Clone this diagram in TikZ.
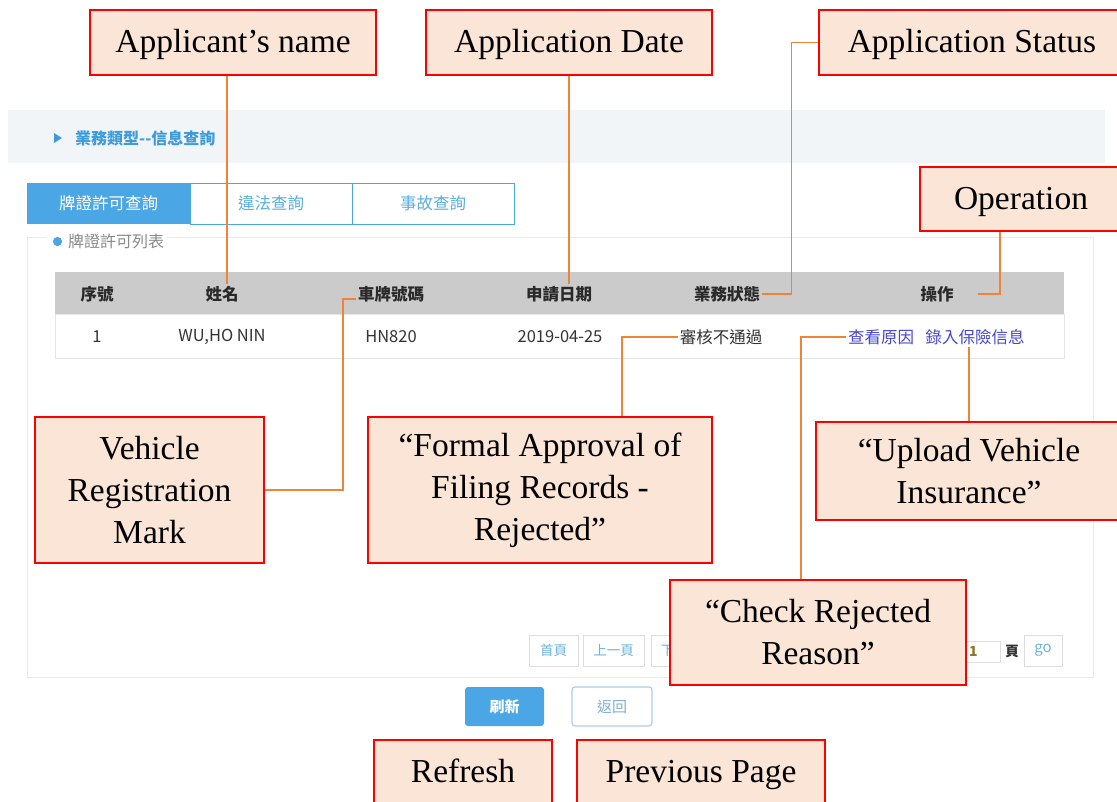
\documentclass[tikz,border=0pt]{standalone}
\usepackage{fontspec}
\setmainfont{Liberation Serif}
\newfontfamily\uifont{Noto Sans CJK TC}
\usetikzlibrary{calc}

\definecolor{calloutfill}{HTML}{FBE5D6}
\definecolor{calloutred}{HTML}{FF0000}
\definecolor{connorange}{HTML}{F08436}
\definecolor{uiblue}{HTML}{4AA6E4}
\definecolor{hdrbg}{HTML}{F2F5F8}
\definecolor{hdrblue}{HTML}{3D9BDB}
\definecolor{tabtext}{HTML}{5AAEE0}
\definecolor{thgray}{HTML}{CBCBCB}
\definecolor{panelgray}{HTML}{EAEAEA}
\definecolor{rowborder}{HTML}{E6E6E6}
\definecolor{uitext}{HTML}{333333}
\definecolor{legendgray}{HTML}{8A8A8A}
\definecolor{linkblue}{HTML}{4646D2}
\definecolor{pagegray}{HTML}{DDDDDD}
\definecolor{pageblue}{HTML}{6BB3DD}
\definecolor{inputnum}{HTML}{8C7A2A}
\definecolor{btnborder}{HTML}{A9CFE9}
\definecolor{btntext}{HTML}{7FB0D6}

\begin{document}
\begin{tikzpicture}[x=1pt,y=-1pt,
  callout/.style={draw=calloutred, line width=2.6pt, fill=calloutfill, align=center,
    inner sep=0pt, text=black, font=\fontsize{33.5}{42}\selectfont},
  oneline/.style={text height=23pt, text depth=3pt},
  conn/.style={draw=connorange, line width=1.4pt},
  ui/.style={inner sep=2pt, text=uitext, font=\uifont\fontsize{16.5}{20}\selectfont},
  uibold/.style={inner sep=2pt, text=uitext!80!black, font=\uifont\bfseries\fontsize{16.5}{20}\selectfont},
  link/.style={inner sep=2pt, text=linkblue, font=\uifont\fontsize{16.5}{20}\selectfont},
  tabon/.style={fill=uiblue, text=white, minimum height=41pt, inner sep=0pt,
    font=\uifont\fontsize{16.5}{20}\selectfont},
  taboff/.style={draw=uiblue, line width=1pt, fill=white, text=tabtext, minimum height=41pt,
    inner sep=0pt, font=\uifont\fontsize{16.5}{20}\selectfont},
  pagebtn/.style={draw=pagegray, line width=1pt, fill=white, text=pageblue, minimum height=31pt,
    inner sep=0pt, font=\uifont\fontsize{13.5}{16}\selectfont},
  btnon/.style={fill=uiblue, text=white, rounded corners=3pt, minimum width=79pt, minimum height=39pt,
    inner sep=0pt, font=\uifont\bfseries\fontsize{15}{18}\selectfont},
  btnoff/.style={draw=btnborder, line width=1.2pt, fill=white, text=btntext, rounded corners=3pt,
    minimum width=80pt, minimum height=39pt, inner sep=0pt, font=\uifont\fontsize{15}{18}\selectfont}
]
\useasboundingbox (0,0) rectangle (1117,801);
\fill[white] (0,0) rectangle (1117,801);

% ---------- header band ----------
\fill[hdrbg] (8,110) rectangle (1105,163);
\fill[hdrblue] (54,133) -- (62,138) -- (54,143) -- cycle;
\node[anchor=west, inner sep=0pt, text=hdrblue, font=\uifont\bfseries\fontsize{16}{20}\selectfont]
  (crumb) at (75,138) {業務類型--信息查詢};

% ---------- panel ----------
\draw[panelgray, line width=1pt, fill=white] (27,237) rectangle (1093,677);

% ---------- tabs ----------
\node[tabon, minimum width=163pt] (tab1) at (108.5,203.5) {牌證許可查詢};
\node[taboff, minimum width=162pt] (tab2) at (271,203.5) {違法查詢};
\node[taboff, minimum width=162pt] (tab3) at (433,203.5) {事故查詢};

% ---------- legend ----------
\fill[white] (47,231) rectangle (70,251);
\node[anchor=west, fill=white, inner sep=2pt, text=legendgray, font=\uifont\fontsize{16}{20}\selectfont]
  (legend) at (66,241) {牌證許可列表};
\fill[uiblue] (57.5,241.5) circle (4.6);

% ---------- table ----------
\fill[thgray] (55,272) rectangle (1064,314);
\draw[rowborder, line width=1pt, fill=white] (55,314) rectangle (1064,358);

\node[uibold] (thno) at (97,294) {序號};
\node[uibold] (thname) at (222,294) {姓名};
\node[uibold] (thplate) at (391,294) {車牌號碼};
\node[uibold] (thdate) at (559,294) {申請日期};
\node[uibold] (thstatus) at (727,294) {業務狀態};
\node[uibold] (thop) at (937,294) {操作};

\node[ui] (tdno) at (97,337) {1};
\node[ui] (tdname) at (222,337) {WU,HO NIN};
\node[ui] (tdplate) at (391,337) {HN820};
\node[ui] (tddate) at (560,337) {2019-04-25};
\node[ui] (tdstatus) at (721,337) {審核不通過};
\node[link] (tdcheck) at (881,337) {查看原因};
\node[link] (tdupload) at (975,337) {錄入保險信息};

% ---------- pagination ----------
\node[pagebtn, minimum width=49pt] (pfirst) at (553.5,650.5) {首頁};
\node[pagebtn, minimum width=61pt] (pprev) at (613.5,650.5) {上一頁};
\node[pagebtn, minimum width=60pt] (pnext) at (681,650.5) {下一頁};
\node[draw=pagegray, line width=1pt, fill=white, minimum width=62pt, minimum height=21pt, inner sep=0pt]
  (pinput) at (969,651.5) {};
\node[anchor=west, inner sep=0pt, text=inputnum, font=\uifont\bfseries\fontsize{14}{16}\selectfont]
  (pnum) at (969,651.5) {1};
\node[inner sep=0pt, text=uitext, font=\uifont\bfseries\fontsize{14}{16}\selectfont] (ppage) at (1012,651.5) {頁};
\node[pagebtn, minimum width=38pt, font=\uifont\fontsize{15}{16}\selectfont] (pgo) at (1043,650.5) {go};

% ---------- buttons ----------
\node[btnon] (brefresh) at (504.5,706.5) {刷新};
\node[btnoff] (bback) at (612,706.5) {返回};

% ---------- callouts ----------
\node[callout, oneline, minimum width=286pt, minimum height=65pt] (appname) at (233,42.5) {Applicant’s name};
\node[callout, oneline, minimum width=286pt, minimum height=65pt] (appdate) at (569,42.5) {Application Date};
\node[callout, oneline, minimum width=306pt, minimum height=65pt] (appstatus) at (972,42.5) {Application Status};
\node[callout, oneline, minimum width=202pt, minimum height=64pt] (operation) at (1021,199) {Operation};
\node[callout, minimum width=229pt, minimum height=146pt] (vehicle) at (149.5,490) {Vehicle\\Registration\\Mark};
\node[callout, minimum width=344pt, minimum height=146pt] (formal) at (540,490) {“Formal Approval of\\Filing Records -\\Rejected”};
\node[callout, minimum width=306pt, minimum height=98pt] (upload) at (969,471) {“Upload Vehicle\\Insurance”};
\node[callout, minimum width=296pt, minimum height=105pt] (check) at (818,632.5) {“Check Rejected\\Reason”};
\node[callout, oneline, minimum width=178pt, minimum height=65pt] (refresh) at (463,772.5) {Refresh};
\node[callout, oneline, minimum width=248pt, minimum height=65pt] (prevpage) at (701,772.5) {Previous Page};

% ---------- connectors ----------
\draw[conn] ([xshift=-6pt]appname.south) -- ([xshift=-6pt]appname.south |- thname.north);
\draw[conn] (appdate.south) -- (appdate.south |- thdate.north);
\draw[conn] (thstatus.east) -| ([xshift=-26pt]appstatus.west) -- (appstatus.west);
\draw[conn] ([xshift=22pt]thop.east) -| ([xshift=-21pt]operation.south);
\draw[conn] (vehicle.east) -| ([xshift=-13pt,yshift=-5pt]thplate.west) -- ([yshift=-5pt]thplate.west);
\draw[conn] (tdstatus.west) -| ([xshift=82pt]formal.north);
\draw[conn] (tdcheck.west) -| ([xshift=-17pt]check.north);
\draw[conn] (upload.north |- tdupload.south) -- (upload.north);
\end{tikzpicture}
\end{document}
